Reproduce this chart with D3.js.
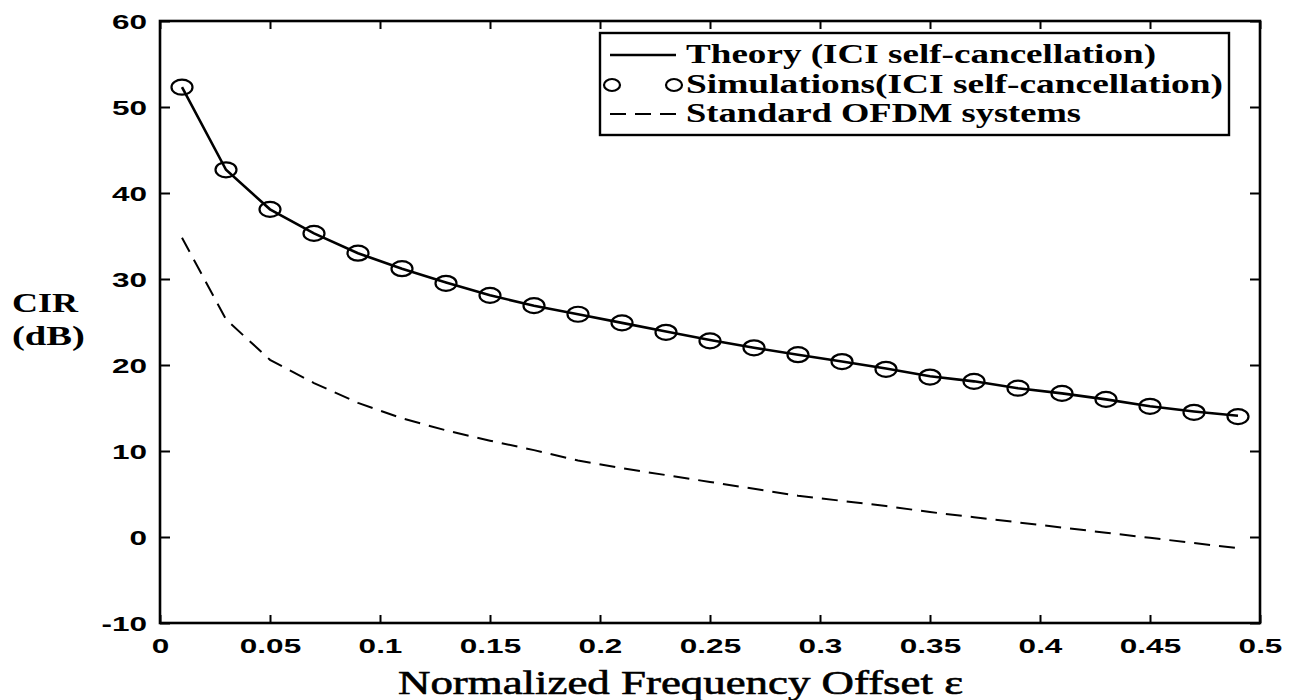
<!DOCTYPE html>
<html>
<head>
<meta charset="utf-8">
<script src="https://cdn.jsdelivr.net/npm/d3@7"></script>
<style>
  body { margin: 0; background: #fff; }
  svg { display: block; }
</style>
</head>
<body>
<div id="chart"></div>
<script>
// frequency offsets of the points
var offsets = [0.01, 0.03, 0.05, 0.07, 0.09, 0.11, 0.13, 0.15, 0.17, 0.19, 0.21, 0.23, 0.25,
               0.27, 0.29, 0.31, 0.33, 0.35, 0.37, 0.39, 0.41, 0.43, 0.45, 0.47, 0.49];

// CIR (dB)
var theory = [52.3, 42.7, 38.1, 35.3, 33.0, 31.2, 29.6, 28.1, 26.9, 25.9, 24.9, 23.9, 22.9,
              22.0, 21.2, 20.4, 19.6, 18.7, 18.1, 17.3, 16.7, 16.0, 15.2, 14.6, 14.1];
var simulations = [52.3, 42.7, 38.1, 35.3, 33.0, 31.2, 29.5, 28.1, 26.9, 25.9, 24.9, 23.8, 22.8,
                   22.0, 21.2, 20.4, 19.5, 18.6, 18.1, 17.3, 16.7, 16.0, 15.2, 14.5, 14.0];
var standard = [34.8, 25.3, 20.6, 17.9, 15.6, 13.8, 12.4, 11.2, 10.1, 8.9, 8.0, 7.2, 6.4,
                5.6, 4.8, 4.2, 3.6, 2.9, 2.3, 1.7, 1.1, 0.5, -0.1, -0.7, -1.3];

var xTicks = [0, 0.05, 0.1, 0.15, 0.2, 0.25, 0.3, 0.35, 0.4, 0.45, 0.5];
var yTicks = [-10, 0, 10, 20, 30, 40, 50, 60];
var legendLabels = ["Theory (ICI self-cancellation)", "Simulations(ICI self-cancellation)", "Standard OFDM systems"];

var width = 1300, height = 700;
var svg = d3.select("#chart").append("svg")
  .attr("width", width)
  .attr("height", height);

var x = d3.scaleLinear().domain([0, 0.5]).range([160, 1260]);
var y = d3.scaleLinear().domain([-10, 60]).range([623, 21]);

var serif = "'Liberation Serif', 'Times New Roman', serif";
var sans = "'Liberation Sans', Arial, sans-serif";
var sx = 1.5; // the scan is stretched sideways

// plain hyphen for negatives, like the original
function plain(d) { return String(d); }

// axes, ticks pointing inward on all four sides
function styleAxis(g) {
  g.select(".domain").remove();
  g.selectAll(".tick line").attr("stroke", "#000").attr("stroke-width", 2);
}

svg.append("g")
  .attr("transform", "translate(0," + y(-10) + ")")
  .call(d3.axisBottom(x).tickValues(xTicks).tickSize(-8).tickFormat(plain))
  .call(styleAxis)
  .call(function(g) {
    g.selectAll("text")
      .attr("y", 0).attr("dy", 0)
      .attr("transform", "translate(0,30) scale(" + sx + ",1)")
      .attr("font-family", sans).attr("font-weight", "bold")
      .attr("font-size", 21).attr("fill", "#000");
  });

svg.append("g")
  .attr("transform", "translate(0," + y(60) + ")")
  .call(d3.axisTop(x).tickValues(xTicks).tickSize(-8).tickFormat(""))
  .call(styleAxis);

svg.append("g")
  .attr("transform", "translate(" + x(0) + ",0)")
  .call(d3.axisLeft(y).tickValues(yTicks).tickSize(-10).tickFormat(plain))
  .call(styleAxis)
  .call(function(g) {
    g.selectAll("text")
      .attr("x", 0).attr("dy", "0.36em")
      .attr("transform", "translate(-13,0) scale(" + sx + ",1)")
      .attr("font-family", sans).attr("font-weight", "bold")
      .attr("font-size", 21).attr("fill", "#000");
  });

svg.append("g")
  .attr("transform", "translate(" + x(0.5) + ",0)")
  .call(d3.axisRight(y).tickValues(yTicks).tickSize(-10).tickFormat(""))
  .call(styleAxis);

// frame
svg.append("rect")
  .attr("x", x(0)).attr("y", y(60))
  .attr("width", x(0.5) - x(0)).attr("height", y(-10) - y(60))
  .attr("fill", "none").attr("stroke", "#000").attr("stroke-width", 2.6);

// series
var line = d3.line()
  .x(function(d) { return x(d[0]); })
  .y(function(d) { return y(d[1]); });

svg.append("path")
  .datum(d3.zip(offsets, standard))
  .attr("d", line)
  .attr("fill", "none").attr("stroke", "#000")
  .attr("stroke-width", 2).attr("stroke-dasharray", "16,9");

svg.append("path")
  .datum(d3.zip(offsets, theory))
  .attr("d", line)
  .attr("fill", "none").attr("stroke", "#000").attr("stroke-width", 2.6);

svg.append("g")
  .selectAll("ellipse")
  .data(d3.zip(offsets, simulations))
  .enter()
  .append("ellipse")
  .attr("cx", function(d) { return x(d[0]); })
  .attr("cy", function(d) { return y(d[1]); })
  .attr("rx", 10.5).attr("ry", 7.5)
  .attr("fill", "none").attr("stroke", "#000").attr("stroke-width", 2.2);

// legend
var legend = svg.append("g");
legend.append("rect")
  .attr("x", 600).attr("y", 33).attr("width", 629).attr("height", 102)
  .attr("fill", "#fff").attr("stroke", "#000").attr("stroke-width", 2.4);

var rowY = [55, 85, 114];
legend.append("line")
  .attr("x1", 610).attr("x2", 676).attr("y1", rowY[0]).attr("y2", rowY[0])
  .attr("stroke", "#000").attr("stroke-width", 2.4);
[612, 674].forEach(function(cx) {
  legend.append("ellipse")
    .attr("cx", cx).attr("cy", rowY[1]).attr("rx", 8).attr("ry", 6)
    .attr("fill", "none").attr("stroke", "#000").attr("stroke-width", 2.2);
});
legend.append("line")
  .attr("x1", 610).attr("x2", 676).attr("y1", rowY[2]).attr("y2", rowY[2])
  .attr("stroke", "#000").attr("stroke-width", 2).attr("stroke-dasharray", "16,9");

var textWidths = [470, 537, 395];
legend.selectAll("text")
  .data(legendLabels)
  .enter()
  .append("text")
  .attr("x", 686)
  .attr("y", function(d, i) { return rowY[i] + 8; })
  .attr("textLength", function(d, i) { return textWidths[i]; })
  .attr("lengthAdjust", "spacingAndGlyphs")
  .attr("font-family", serif).attr("font-weight", "bold").attr("font-size", 27)
  .text(function(d) { return d; });

// axis titles
svg.append("text")
  .attr("x", 398).attr("y", 694)
  .attr("textLength", 565).attr("lengthAdjust", "spacingAndGlyphs")
  .attr("font-family", serif).attr("font-size", 33)
  .attr("stroke", "#000").attr("stroke-width", 0.6)
  .text("Normalized Frequency Offset \u03b5");

svg.append("text")
  .attr("x", 12).attr("y", 312)
  .attr("textLength", 66).attr("lengthAdjust", "spacingAndGlyphs")
  .attr("font-family", serif).attr("font-weight", "bold").attr("font-size", 28)
  .text("CIR");
svg.append("text")
  .attr("x", 12).attr("y", 345)
  .attr("textLength", 73).attr("lengthAdjust", "spacingAndGlyphs")
  .attr("font-family", serif).attr("font-weight", "bold").attr("font-size", 28)
  .text("(dB)");
</script>
</body>
</html>
